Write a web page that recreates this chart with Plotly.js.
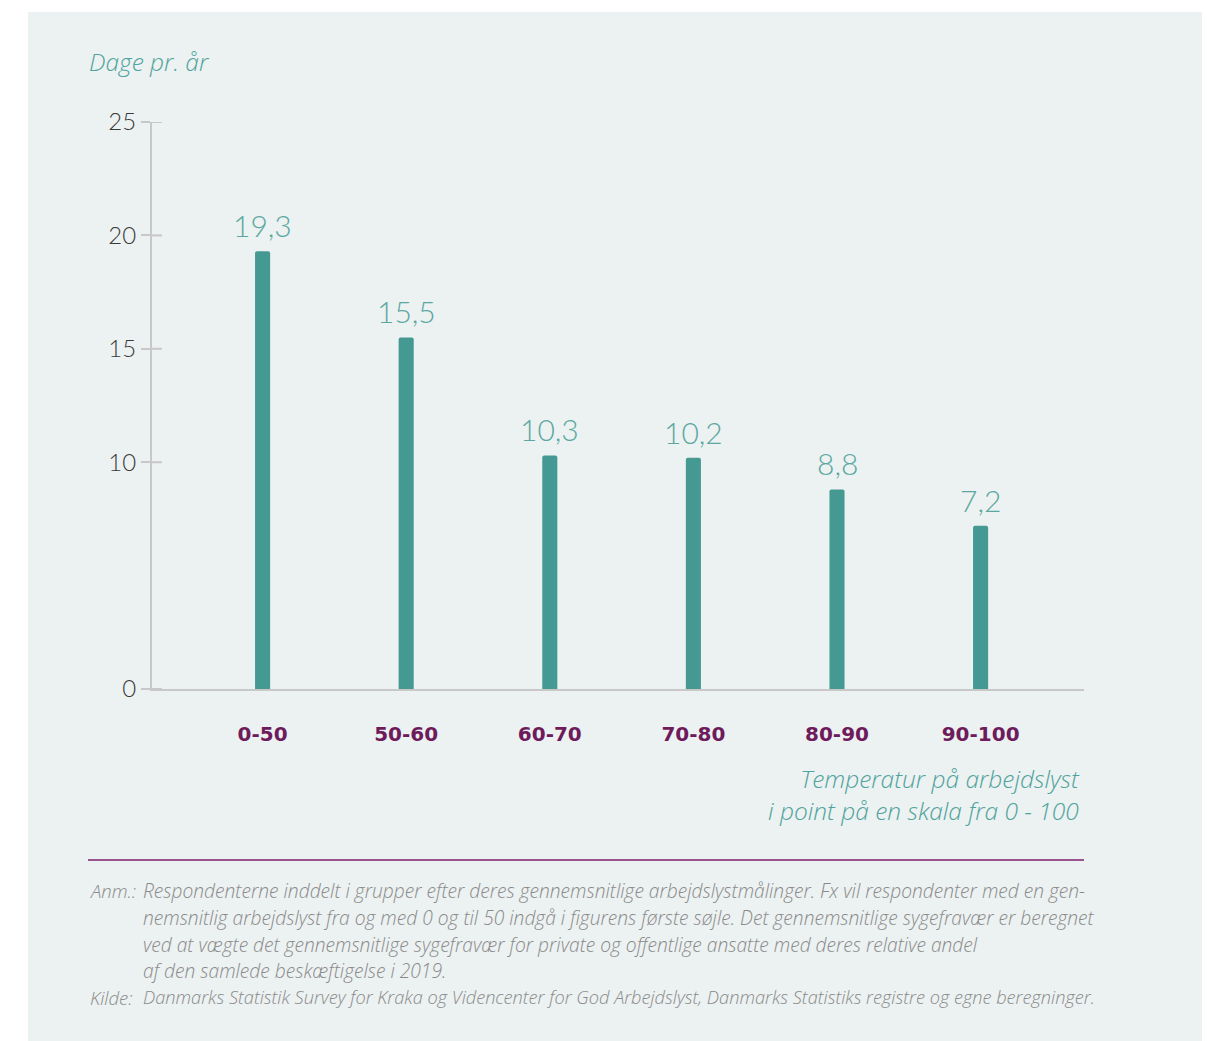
<!DOCTYPE html>
<html>
<head>
<meta charset="utf-8">
<script src="https://cdn.plot.ly/plotly-3.0.1.min.js"></script>
<style>
  html, body { margin: 0; padding: 0; background: #ffffff; }
  #panel { position: absolute; left: 28px; top: 12px; width: 1174px; height: 1029px; background: #ECF1F1; }
  #chart { width: 1174px; height: 1029px; }
</style>
</head>
<body>
<div id="panel"><div id="chart"></div></div>
<script>
// ---- data ----
const categories = ["0-50", "50-60", "60-70", "70-80", "80-90", "90-100"];
const values = [19.3, 15.5, 10.3, 10.2, 8.8, 7.2];
const yTickVals = [0, 10, 15, 20, 25];
const yTitle = "Dage pr. år";
const xTitle = "Temperatur på arbejdslyst<br>i point på en skala fra 0 - 100";
const noteLabels = ["Anm.:", "Kilde:"];
const noteLines = [
  "Respondenterne inddelt i grupper efter deres gennemsnitlige arbejdslystmålinger. Fx vil respondenter med en gen-",
  "nemsnitlig arbejdslyst fra og med 0 og til 50 indgå i figurens første søjle. Det gennemsnitlige sygefravær er beregnet",
  "ved at vægte det gennemsnitlige sygefravær for private og offentlige ansatte med deres relative andel",
  "af den samlede beskæftigelse i 2019.",
  "Danmarks Statistik Survey for Kraka og Videncenter for God Arbejdslyst, Danmarks Statistiks registre og egne beregninger."
];

// ---- geometry helpers (panel pixels -> paper) ----
const ML = 124, MR = 118, MT = 110, MB = 352, W = 1174, H = 1029;
const PW = W - ML - MR, PH = H - MT - MB;
const px = X => (X - 28 - ML) / PW;
const py = Y => 1 - (Y - 12 - MT) / PH;

const teal = "#4FA39C";
const numFont = "Lato, 'Open Sans', sans-serif";
const textFont = "'Open Sans', Lato, sans-serif";
const noteFont = s => ({ family: textFont, size: s, style: "italic", weight: 300, color: "#8A8A8A" });
const noteSizes = [19.2, 19.2, 19.2, 19.2, 18.2];

const trace = {
  type: "bar",
  x: categories,
  y: values,
  width: 0.105,
  marker: { color: "#449A93", cornerradius: 2 },
  hoverinfo: "skip"
};

const annotations = [];
// value labels
categories.forEach((c, i) => {
  annotations.push({
    x: c, y: values[i], xref: "x", yref: "y",
    text: values[i].toFixed(1).replace(".", ","),
    showarrow: false, yanchor: "bottom", yshift: 6,
    font: { family: numFont, size: 30, weight: 300, color: "#5BA8A1" }
  });
});
// y title
annotations.push({
  x: px(87), y: py(61), xref: "paper", yref: "paper", xanchor: "left", yanchor: "middle",
  text: yTitle, showarrow: false,
  font: { family: textFont, size: 24.5, style: "italic", weight: 300, color: teal }
});
// x title
annotations.push({
  x: px(1082), y: py(794), xref: "paper", yref: "paper", xanchor: "right", yanchor: "middle",
  text: xTitle, showarrow: false, align: "right",
  font: { family: textFont, size: 24.5, style: "italic", weight: 300, color: teal }
});
// notes
const noteY = [890, 917, 944, 970, 997];
annotations.push({
  x: px(88), y: py(noteY[0]), xref: "paper", yref: "paper", xanchor: "left", yanchor: "middle",
  text: noteLabels[0], showarrow: false, font: noteFont(18.5)
});
annotations.push({
  x: px(88), y: py(noteY[4]), xref: "paper", yref: "paper", xanchor: "left", yanchor: "middle",
  text: noteLabels[1], showarrow: false, font: noteFont(18.5)
});
noteLines.forEach((t, i) => {
  annotations.push({
    x: px(141), y: py(noteY[i]), xref: "paper", yref: "paper", xanchor: "left", yanchor: "middle",
    text: t, showarrow: false, font: noteFont(noteSizes[i])
  });
});

const shapes = [];
// inner halves of y ticks (crossing tick marks)
yTickVals.forEach(v => {
  shapes.push({
    type: "line", xref: "paper", yref: "y",
    x0: 0, x1: 10 / PW, y0: v, y1: v,
    line: { color: "#C8C8C8", width: 2 }
  });
});
// purple rule above notes
shapes.push({
  type: "line", xref: "paper", yref: "paper",
  x0: px(88), x1: px(1084), y0: py(860), y1: py(860),
  line: { color: "#7E1F6E", width: 1.5 }
});

const layout = {
  width: W, height: H,
  margin: { l: ML, r: MR, t: MT, b: MB },
  paper_bgcolor: "rgba(0,0,0,0)",
  plot_bgcolor: "rgba(0,0,0,0)",
  showlegend: false,
  separators: ",.",
  xaxis: {
    type: "category",
    range: [-0.77, 5.72],
    showgrid: false, zeroline: false,
    showline: true, linecolor: "#C8C8C8", linewidth: 2,
    ticks: "", ticklabelstandoff: 26,
    tickfont: { family: "'DejaVu Sans', sans-serif", size: 20, weight: 700, color: "#6E1B5C" },
    fixedrange: true
  },
  yaxis: {
    range: [0, 25],
    tickmode: "array", tickvals: yTickVals,
    showgrid: false, zeroline: false,
    showline: true, linecolor: "#C8C8C8", linewidth: 2,
    ticks: "outside", ticklen: 9, tickwidth: 2, tickcolor: "#C8C8C8",
    tickfont: { family: numFont, size: 24, weight: 300, color: "#3A3A3A" },
    fixedrange: true
  },
  annotations: annotations,
  shapes: shapes
};

Plotly.newPlot("chart", [trace], layout, { displayModeBar: false, staticPlot: true });
</script>
</body>
</html>
